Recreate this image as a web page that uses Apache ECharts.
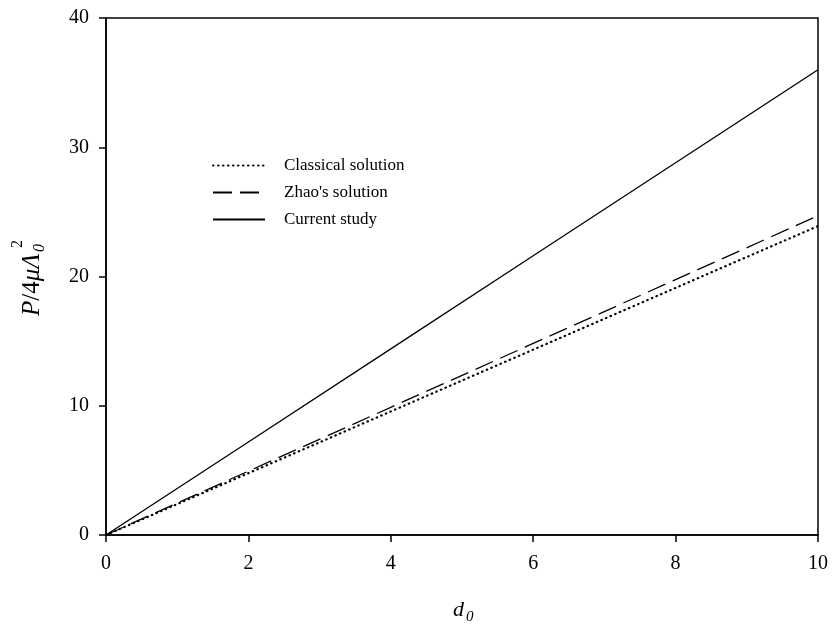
<!DOCTYPE html>
<html>
<head>
<meta charset="utf-8">
<script src="https://cdn.jsdelivr.net/npm/echarts@6/dist/echarts.min.js"></script>
<style>html,body{margin:0;padding:0;background:#fff}#c{width:832px;height:630px}</style>
</head>
<body>
<div id="c"></div>
<script>
const xValues = [0, 2, 4, 6, 8, 10];
const classical = [0, 4.78, 9.56, 14.34, 19.12, 23.9];
const zhao = [0, 4.94, 9.88, 14.82, 19.76, 24.7];
const current = [0, 7.2, 14.4, 21.6, 28.8, 36.0];
const seriesNames = ['Classical solution', "Zhao's solution", 'Current study'];
const xTicks = [0, 2, 4, 6, 8, 10];
const yTicks = [0, 10, 20, 30, 40];

const font = '"Liberation Serif", "Times New Roman", serif';
const pair = (ys) => xValues.map((x, i) => [x, ys[i]]);

const chart = echarts.init(document.getElementById('c'));
chart.setOption({
  animation: false,
  backgroundColor: '#fff',
  grid: { left: 106, top: 18, width: 712, height: 517, show: true, borderColor: '#000', borderWidth: 1.5, backgroundColor: 'transparent' },
  legend: {
    left: 207, top: 152, orient: 'vertical', itemWidth: 52, itemHeight: 14, itemGap: 10,
    itemStyle: { opacity: 0 },
    textStyle: { fontFamily: font, fontSize: 17, color: '#000', padding: [0, 0, 0, 14] },
    data: seriesNames
  },
  xAxis: {
    type: 'value', min: 0, max: 10, interval: 2,
    axisLine: { lineStyle: { color: '#000', width: 1.5 } },
    axisTick: { inside: false, length: 7, lineStyle: { color: '#000', width: 1.5 } },
    axisLabel: { fontFamily: font, fontSize: 20, color: '#000', margin: 19, formatter: v => xTicks.includes(v) ? String(v) : '' },
    splitLine: { show: false }
  },
  yAxis: {
    type: 'value', min: 0, max: 40, interval: 10,
    axisLine: { lineStyle: { color: '#000', width: 1.5 } },
    axisTick: { inside: false, length: 7, lineStyle: { color: '#000', width: 1.5 } },
    axisLabel: { fontFamily: font, fontSize: 20, color: '#000', margin: 17, formatter: v => yTicks.includes(v) ? String(v) : '' },
    splitLine: { show: false }
  },
  series: [
    { name: seriesNames[0], type: 'line', data: pair(classical), symbol: 'none', lineStyle: { color: '#000', width: 2.2, type: [0.5, 4.5], cap: 'round' }, itemStyle: { color: '#000' } },
    { name: seriesNames[1], type: 'line', data: pair(zhao), symbol: 'none', lineStyle: { color: '#000', width: 1.3, type: [19, 8] }, itemStyle: { color: '#000' } },
    { name: seriesNames[2], type: 'line', data: pair(current), symbol: 'none', lineStyle: { color: '#000', width: 1.3 }, itemStyle: { color: '#000' } }
  ],
  graphic: [
    {
      type: 'group', x: 32, y: 316, rotation: Math.PI / 2,
      children: [
        { type: 'text', x: 0, y: 0, style: { text: '{i|P}/4{i|μΛ}', fontFamily: font, fontSize: 25, fill: '#000', textAlign: 'left', textVerticalAlign: 'middle',
          rich: { i: { fontFamily: font, fontStyle: 'italic', fontSize: 25, fill: '#000' } } } },
        { type: 'text', x: 64, y: 8, style: { text: '0', fontFamily: font, fontStyle: 'italic', fontSize: 16, fill: '#000', textAlign: 'left', textVerticalAlign: 'middle' } },
        { type: 'text', x: 68, y: -14, style: { text: '2', fontFamily: font, fontSize: 16, fill: '#000', textAlign: 'left', textVerticalAlign: 'middle' } }
      ]
    },
    {
      type: 'group', x: 453, y: 610,
      children: [
        { type: 'text', x: 0, y: 0, style: { text: 'd', fontFamily: font, fontStyle: 'italic', fontSize: 22, fill: '#000', textAlign: 'left', textVerticalAlign: 'middle' } },
        { type: 'text', x: 13, y: 7, style: { text: '0', fontFamily: font, fontStyle: 'italic', fontSize: 15, fill: '#000', textAlign: 'left', textVerticalAlign: 'middle' } }
      ]
    }
  ]
});
</script>
</body>
</html>
